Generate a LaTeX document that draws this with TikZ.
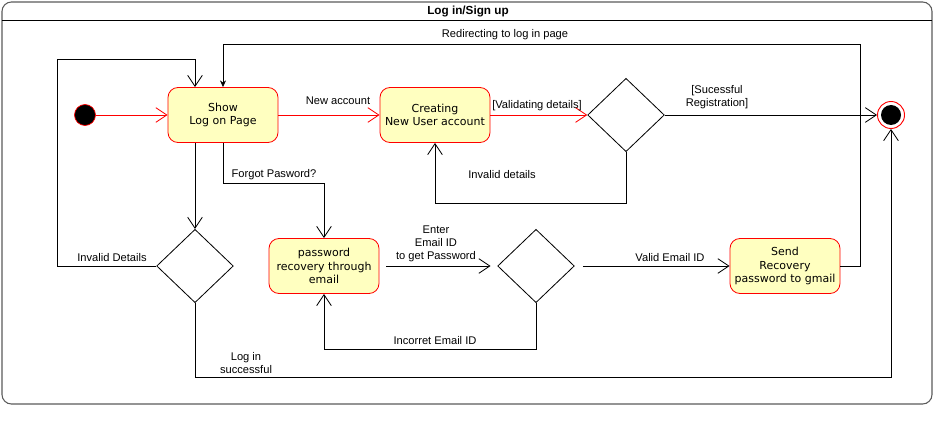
\documentclass[tikz,border=0pt]{standalone}
\usepackage{fontspec}
\setmainfont{Liberation Sans}
\newfontfamily\statefont{DejaVu Sans}
\usetikzlibrary{arrows.meta,shapes.geometric}
\definecolor{statered}{RGB}{255,0,0}
\definecolor{stateyellow}{RGB}{255,255,192}
\definecolor{framegray}{RGB}{90,90,90}
\tikzset{
  state/.style={rectangle, rounded corners=8.5pt, draw=statered, fill=stateyellow, line width=0.7pt, minimum width=3.3cm, minimum height=1.65cm, align=center, inner sep=2pt, font=\statefont\fontsize{9.4}{11.5}\selectfont},
  decision/.style={diamond, draw, line width=0.7pt, inner sep=0pt, minimum width=2.3cm, minimum height=2.2cm},
  start/.style={circle, draw=statered, fill=black, line width=0.6pt, minimum size=0.63cm, inner sep=0pt},
  finish/.style={circle, draw=statered, fill=white, line width=0.8pt, minimum size=0.81cm, inner sep=0pt},
  finishdot/.style={circle, fill=black, minimum size=0.6cm, inner sep=0pt},
  trans/.style={-{Straight Barb[length=3.3mm,width=4.4mm]}, line width=0.7pt},
  redtrans/.style={trans, draw=statered},
  backtrans/.style={-{Stealth[length=2mm,width=1.8mm]}, line width=0.7pt},
  lbl/.style={font=\fontsize{9.5}{11}\selectfont, align=center, inner sep=0pt}
}
\begin{document}
\begin{tikzpicture}[x=0.03cm, y=-0.03cm]
  \useasboundingbox (0,0) rectangle (943,423);

  % frame with title bar
  \draw[framegray, line width=0.9pt, rounded corners=8pt] (2,2) rectangle (932,404);
  \draw[line width=0.7pt] (2,20) -- (932,20);
  \node[font=\bfseries\fontsize{10}{12}\selectfont] (title) at (468,11) {Log in/Sign up};

  % states
  \node[start] (init) at (85,115) {};
  \node[state] (show) at (223,115) {Show\\Log on Page};
  \node[state] (create) at (435,115) {Creating\\New User account};
  \node[decision] (valid) at (626,115) {};
  \node[finish] (end) at (891,115) {};
  \node[finishdot] (enddot) at (end) {};
  \node[decision] (login) at (195,266) {};
  \node[state] (recov) at (324,266) {password\\recovery through\\email};
  \node[decision] (mail) at (536,266) {};
  \node[state] (send) at (785,266) {Send\\Recovery\\password to gmail};

  % bend points
  \coordinate (loopL) at (57,59);
  \coordinate (redir) at (860,44);

  % red path
  \draw[redtrans] (init) -- (show);
  \draw[redtrans] (show) -- (create);
  \draw[redtrans] (create) -- (valid.west);

  % transitions
  \draw[trans] (valid.east) -- (end.west);
  \draw[trans] (valid.south) -- ++(0,51) -| (create.south);
  \draw[trans] (show.south -| login) -- (login.north);
  \draw[trans] (show.south) -- ++(0,40) -| (recov.north);
  \draw[trans] (login.west) -| (loopL) -| (show.north -| login);
  \draw[trans] (login.south) -- ++(0,74) -| (end.south);
  \draw[trans, shorten <=2mm, shorten >=2mm] (recov.east) -- (mail.west);
  \draw[trans, shorten <=2.4mm] (mail.east) -- (send.west);
  \draw[trans] (mail.south) -- ++(0,46) -| (recov.south);
  \draw[backtrans] (send.east) -| (redir) -| (show.north);

  % labels
  \node[lbl] (lredir) at (505,35) {Redirecting to log in page};
  \node[lbl] (lnew) at (338,101) {New account};
  \node[lbl] (lvalid) at (537,106) {[Validating details]};
  \node[lbl] (lreg) at (717,97) {[Sucessful\\Registration]};
  \node[lbl] (linvalid) at (502,175) {Invalid details};
  \node[lbl] (lforgot) at (274,175) {Forgot Pasword?};
  \node[lbl] (lbad) at (112,258) {Invalid Details};
  \node[lbl] (lenter) at (436,244) {Enter\\Email ID\\to get Password};
  \node[lbl] (lok) at (670,258) {Valid Email ID};
  \node[lbl] (lwrong) at (435,341) {Incorret Email ID};
  \node[lbl] (lsuccess) at (246,363) {Log in\\successful};
\end{tikzpicture}
\end{document}
